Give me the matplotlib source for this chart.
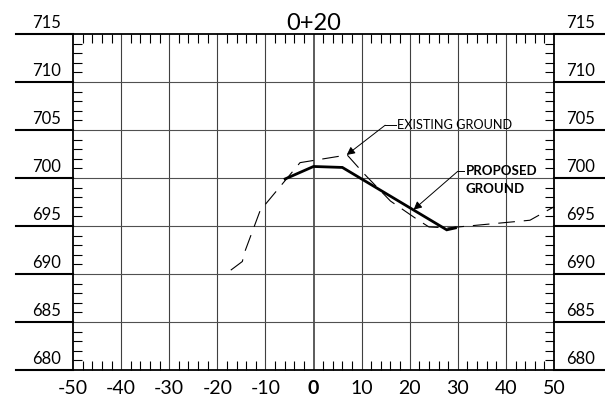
import numpy as np
import matplotlib.pyplot as plt
from matplotlib.ticker import MultipleLocator

plt.rcParams['font.family'] = ['Lato', 'DejaVu Sans']

# ---------------------------------------------------------
# Section data (station 0+20)
# ---------------------------------------------------------
title = "0+20"
x_ticks = [-50, -40, -30, -20, -10, 0, 10, 20, 30, 40, 50]
y_ticks = [680, 685, 690, 695, 700, 705, 710, 715]

existing_x = [-17.2, -14.8, -14.3, -11.1, -2.8, 7.0, 10.4, 16.0, 21.8, 24.0, 28.0, 45.0, 50.0]
existing_y = [690.4, 691.3, 692.3, 696.6, 701.6, 702.4, 700.5, 697.6, 695.6, 694.9, 694.8, 695.6, 697.0]

proposed_x = [-5.9, 0.0, 6.0, 27.7, 29.5]
proposed_y = [699.9, 701.2, 701.1, 694.6, 694.8]

# ---------------------------------------------------------
# Figure
# ---------------------------------------------------------
fig = plt.figure(figsize=(6.05, 4.04), dpi=100)
ax = fig.add_axes([0.1207, 0.0842, 0.795, 0.8316])

ax.set_xlim(-50, 50)
ax.set_ylim(680, 715)

# grid
for xv in x_ticks[1:-1]:
    ax.axvline(xv, color="#404040", lw=1.2 if xv == 0 else 0.8, zorder=1)
for yv in y_ticks[1:-1]:
    ax.axhline(yv, color="#505050", lw=0.8, zorder=1)

# ground lines
ax.plot(existing_x, existing_y, color="black", lw=0.8, dashes=(15, 8), zorder=3)
ax.plot(proposed_x, proposed_y, color="black", lw=2.0, solid_joinstyle="miter", zorder=4)

# ticks
ax.set_xticks(x_ticks)
ax.set_xticklabels([str(v) for v in x_ticks])
for lbl in ax.get_xticklabels():
    if lbl.get_text() == "0":
        lbl.set_fontweight("bold")
ax.set_yticks(y_ticks)
ax.set_yticklabels([])
ax.xaxis.set_minor_locator(MultipleLocator(2))
ax.yaxis.set_minor_locator(MultipleLocator(1))
ax.tick_params(which="major", length=0, labelsize=14, pad=7)
ax.tick_params(which="minor", direction="in", length=6.5, width=0.8,
               top=True, right=True, bottom=True, left=True)

for sp in ax.spines.values():
    sp.set_linewidth(1.3)

# elevation labels on both sides, sitting on bold ledger lines
tr = ax.get_yaxis_transform()
for yv in y_ticks:
    ax.plot([-0.118, 0], [yv, yv], transform=tr, color="black", lw=1.5, clip_on=False)
    ax.plot([1, 1.12], [yv, yv], transform=tr, color="black", lw=1.5, clip_on=False)
    ax.text(-0.025, yv + 0.3, str(yv), transform=tr, ha="right", va="bottom", fontsize=12)
    ax.text(1.025, yv + 0.3, str(yv), transform=tr, ha="left", va="bottom", fontsize=12)

ax.set_title(title, fontsize=17, pad=3)

# callouts
ax.plot([14.9, 17.2], [705.5, 705.5], color="black", lw=0.7)
ax.annotate("", xy=(6.9, 702.4), xytext=(14.9, 705.5),
            arrowprops=dict(arrowstyle="-|>", color="black", lw=0.7,
                            mutation_scale=12, shrinkA=0, shrinkB=0))
ax.text(17.4, 705.5, "EXISTING GROUND", fontsize=9.2, va="center", ha="left")

ax.plot([30.0, 31.2], [700.7, 700.7], color="black", lw=0.7)
ax.annotate("", xy=(20.8, 696.7), xytext=(30.0, 700.7),
            arrowprops=dict(arrowstyle="-|>", color="black", lw=0.7,
                            mutation_scale=12, shrinkA=0, shrinkB=0))
ax.text(31.6, 700.7, "PROPOSED", fontsize=9.5, fontweight="bold", va="center", ha="left")
ax.text(31.6, 698.9, "GROUND", fontsize=9.5, fontweight="bold", va="center", ha="left")

fig.savefig("out.png", dpi=100)
